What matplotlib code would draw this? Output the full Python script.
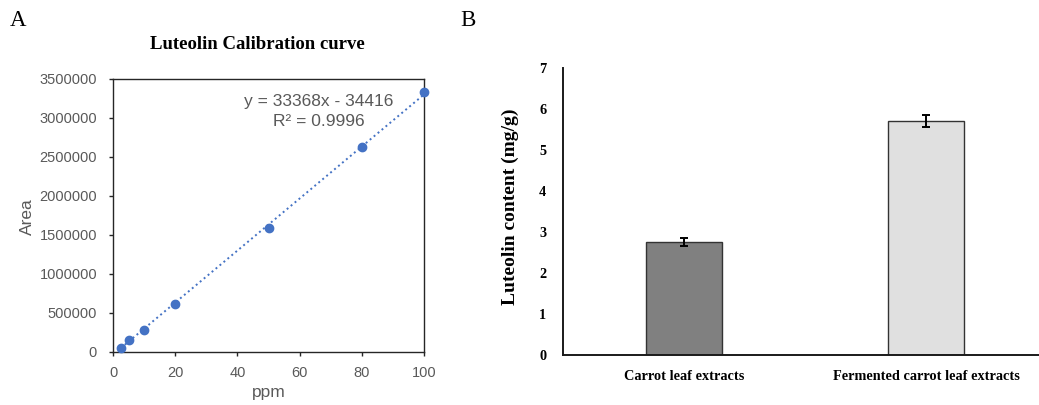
import numpy as np
import matplotlib.pyplot as plt
from matplotlib.ticker import FuncFormatter

# calibration standards (panel A)
ppm = [2.5, 5, 10, 20, 50, 80, 100]
area = [50000, 153000, 285000, 618000, 1590000, 2630000, 3330000]
slope, intercept = 33368, -34416
fit_lines = ['y = 33368x - 34416', 'R² = 0.9996']

# luteolin content (panel B)
samples = ['Carrot leaf extracts', 'Fermented carrot leaf extracts']
content = [2.76, 5.71]
content_err = [0.10, 0.155]
bar_colors = ['#808080', '#e0e0e0']

fig = plt.figure(figsize=(10.39, 4.05), dpi=100)

# ---- panel A ----
ax1 = fig.add_axes([0.1088, 0.131, 0.2994, 0.674])
grey = '#595959'
xs = np.array([ppm[0], ppm[-1]])
ax1.plot(xs, slope * xs + intercept, linestyle=':', color='#4472c4', lw=1.4)
ax1.scatter(ppm, area, s=36, color='#4472c4', zorder=3, clip_on=False)
ax1.set_xlim(0, 100)
ax1.set_ylim(0, 3500000)
ax1.set_xticks(range(0, 101, 20))
ax1.set_yticks(range(0, 3500001, 500000))
ax1.yaxis.set_major_formatter(FuncFormatter(lambda v, p: '%d' % v))
ax1.tick_params(length=3, width=1, color='#262626', labelsize=10.5, labelcolor=grey)
ax1.tick_params(axis='y', pad=8.5)
ax1.tick_params(axis='x', pad=7)
for lbl in ax1.get_xticklabels() + ax1.get_yticklabels():
    lbl.set_family('Liberation Sans')
for sp in ax1.spines.values():
    sp.set_color('#262626')
    sp.set_linewidth(1.0)
ax1.set_xlabel('ppm', fontsize=12.5, color=grey, family='Liberation Sans')
ax1.set_ylabel('Area', fontsize=12.5, color=grey, family='Liberation Sans')
ax1.xaxis.set_label_coords(0.5, -0.150)
ax1.xaxis.label.set_va('center')
ax1.yaxis.set_label_coords(-0.2765, 0.495)
ax1.yaxis.label.set_va('center')
ax1.text(0.662, 0.919, fit_lines[0], transform=ax1.transAxes, ha='center', va='center',
         fontsize=12.5, color=grey, family='Liberation Sans')
ax1.text(0.662, 0.8425, fit_lines[1], transform=ax1.transAxes, ha='center', va='center',
         fontsize=12.5, color=grey, family='Liberation Sans')
fig.text(0.2474, 0.889, 'Luteolin Calibration curve', ha='center', va='center',
         fontsize=13.5, fontweight='bold', family='Liberation Serif')
fig.text(0.0096, 0.95, 'A', ha='left', va='center', fontsize=16.5, family='Liberation Serif')

# ---- panel B ----
ax2 = fig.add_axes([0.5419, 0.1235, 0.4581, 0.7085])
x = np.arange(len(samples))
ax2.bar(x, content, width=0.314, color=bar_colors, edgecolor='#333333', linewidth=1.0)
ax2.errorbar(x, content, yerr=content_err, fmt='none', ecolor='black',
             elinewidth=1.4, capsize=2.8, capthick=1.4)
ax2.set_xlim(-0.5, 1.467)
ax2.set_ylim(0, 7)
ax2.set_xticks(x)
ax2.set_xticklabels(samples)
ax2.set_yticks(range(0, 8))
ax2.tick_params(length=0, labelsize=10.3)
ax2.tick_params(axis='x', pad=11)
ax2.tick_params(axis='y', pad=12)
for lbl in ax2.get_xticklabels() + ax2.get_yticklabels():
    lbl.set_family('Liberation Serif')
    lbl.set_fontweight('bold')
ax2.spines['top'].set_visible(False)
ax2.spines['right'].set_visible(False)
ax2.spines['left'].set_linewidth(1.4)
ax2.spines['bottom'].set_linewidth(1.4)
ax2.spines['left'].set_color('#1a1a1a')
ax2.spines['bottom'].set_color('#1a1a1a')
ax2.set_ylabel('Luteolin content (mg/g)', fontsize=14, fontweight='bold',
               family='Liberation Serif')
ax2.yaxis.set_label_coords(-0.111, 0.515)
ax2.yaxis.label.set_va('center')
fig.text(0.4427, 0.95, 'B', ha='left', va='center', fontsize=16.5, family='Liberation Serif')

fig.savefig('out.png', dpi=100)
